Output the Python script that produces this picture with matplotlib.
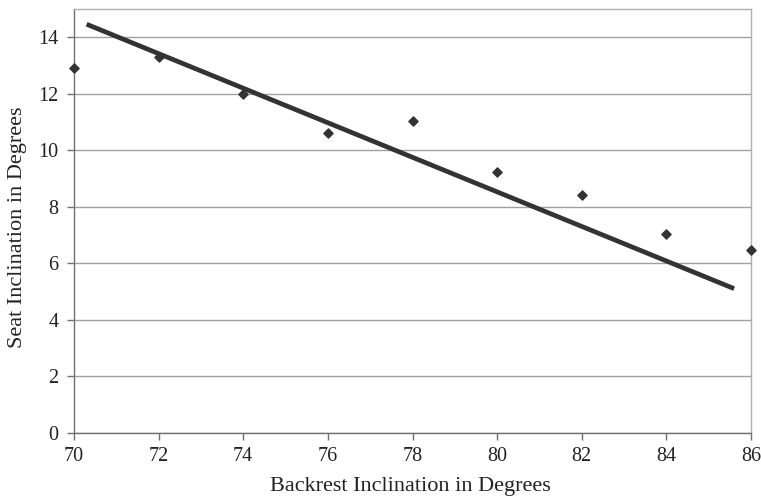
import matplotlib
matplotlib.use("Agg")
import matplotlib.pyplot as plt

# ---- data ----
backrest = [70, 72, 74, 76, 78, 80, 82, 84, 86]
seat = [12.9, 13.3, 12.0, 10.6, 11.05, 9.22, 8.4, 7.03, 6.48]
trend_x = [70.3, 85.6]
trend_y = [14.46, 5.10]

plt.rcParams['font.family'] = ['Liberation Serif', 'DejaVu Serif']

fig = plt.figure(figsize=(7.61, 5.0), dpi=100)
ax = fig.add_axes([0.0972, 0.1346, 0.8897, 0.8474])

ax.plot(trend_x, trend_y, color='#333333', linewidth=3.4, solid_capstyle='butt', zorder=3)
ax.scatter(backrest, seat, marker='D', s=22, color='#333333', zorder=4, clip_on=False)

ax.set_xlim(70, 86)
ax.set_ylim(0, 15)
ax.set_xticks(range(70, 87, 2))
ax.set_yticks(range(0, 15, 2))
ax.yaxis.grid(True, color='#a0a0a0', linewidth=1.0)
ax.set_axisbelow(True)

for side in ['top', 'right']:
    ax.spines[side].set_color('#b0b0b0')
for side in ['left', 'bottom']:
    ax.spines[side].set_color('#707070')
for sp in ax.spines.values():
    sp.set_linewidth(1.0)

ax.tick_params(direction='out', length=5, width=1, color='#707070',
               labelsize=14.5, labelcolor='#222222')
ax.tick_params(axis='x', pad=5)
ax.tick_params(axis='y', pad=6)

ax.set_xlabel("Backrest Inclination in Degrees", fontsize=16, color='#222222')
ax.set_ylabel("Seat Inclination in Degrees", fontsize=16, color='#222222')
ax.xaxis.set_label_coords(0.497, -0.104)
ax.yaxis.set_label_coords(-0.07, 0.484)

fig.savefig("out.png", dpi=100)
